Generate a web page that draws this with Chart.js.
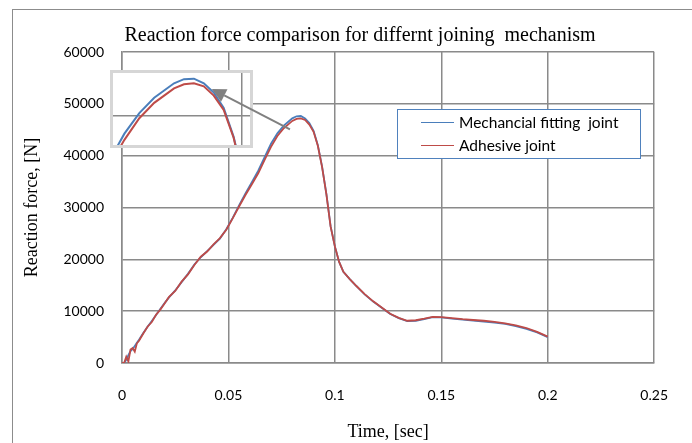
<!DOCTYPE html>
<html>
<head>
<meta charset="utf-8">
<script src="https://cdn.jsdelivr.net/npm/chart.js@4.4.1/dist/chart.umd.min.js"></script>
<style>
  html, body { margin: 0; padding: 0; background: #fff; }
  #wrap { position: relative; width: 692px; height: 443px; overflow: hidden; }
  #wrap canvas { position: absolute; left: 0; top: 0; }
  #inset { pointer-events: none; }
</style>
</head>
<body>
<div id="wrap">
  <canvas id="main" width="692" height="443"></canvas>
  <canvas id="inset" width="692" height="443"></canvas>
</div>
<script>
// ---- data ----
const chartTitle = 'Reaction force comparison for differnt joining  mechanism';
const xAxisTitle = 'Time, [sec]';
const yAxisTitle = 'Reaction force, [N]';
const seriesNames = ['Mechancial fitting  joint', 'Adhesive joint'];

const times = [0, 0.001, 0.002, 0.003, 0.004, 0.005, 0.006, 0.007, 0.008, 0.010,
  0.012, 0.014, 0.016, 0.018, 0.020, 0.022, 0.025, 0.028, 0.031, 0.034,
  0.037, 0.040, 0.043, 0.046, 0.049, 0.052, 0.055, 0.058, 0.061, 0.064,
  0.067, 0.070, 0.073, 0.076, 0.078, 0.080, 0.082, 0.084, 0.086, 0.088,
  0.090, 0.092, 0.094, 0.096, 0.098, 0.100, 0.102, 0.104, 0.107, 0.110,
  0.114, 0.118, 0.122, 0.126, 0.130, 0.134, 0.138, 0.142, 0.146, 0.150,
  0.155, 0.160, 0.165, 0.170, 0.175, 0.180, 0.185, 0.190, 0.195, 0.200];

const mechanicalForce = [0, 0, 600, 1500, 2300, 2700, 3300, 3900, 4500, 5800,
  7000, 8100, 9250, 10400, 11550, 12600, 14000, 15600, 17200, 19000,
  20400, 21600, 22800, 24000, 25800, 28000, 30400, 32700, 34900, 37100,
  39700, 42300, 44300, 45800, 46500, 47200, 47600, 47650, 47200, 46300,
  44800, 42000, 37900, 32700, 26400, 22500, 19500, 17600, 16200, 14900,
  13250, 11850, 10650, 9450, 8650, 8100, 8150, 8450, 8850, 8800,
  8550, 8350, 8200, 8000, 7800, 7550, 7100, 6600, 5900, 5000];

const adhesiveForce = [0, 0, 1200, 300, 2600, 2900, 2200, 3800, 4300, 5700,
  7000, 7900, 9300, 10300, 11500, 12700, 13900, 15700, 17100, 18900,
  20500, 21500, 22900, 24100, 25700, 27900, 30200, 32400, 34500, 36600,
  39200, 41700, 43800, 45300, 46000, 46700, 47100, 47200, 46900, 46000,
  44600, 41900, 37800, 32600, 26300, 22500, 19500, 17600, 16200, 14900,
  13300, 11900, 10700, 9500, 8700, 8150, 8250, 8550, 8900, 8850,
  8650, 8450, 8300, 8150, 7950, 7650, 7250, 6750, 6000, 5100];

const xTicks = [0, 0.05, 0.1, 0.15, 0.2, 0.25];
const xTickLabels = ['0', '0.05', '0.1', '0.15', '0.2', '0.25'];
const yTicks = [0, 10000, 20000, 30000, 40000, 50000, 60000];
const yTickLabels = ['0', '10000', '20000', '30000', '40000', '50000', '60000'];

// zoomed inset (same data, zoomed range) and its pointer arrow
const insetXRange = [0.0675, 0.0955];
const insetYRange = [41000, 48300];
const insetGridX = [0.0937];
const insetGridY = [44000];
const arrowFrom = [0.0789, 45080];
const arrowTo = [0.0422, 52850];

// ---- styles ----
const BLUE = '#4a7ebb';
const RED = '#be4b48';
const GRID = '#8a8a8a';
const SANS = 'Lato, "Liberation Sans", sans-serif';
const SERIF = '"Liberation Serif", "DejaVu Serif", serif';

function pts(ys) { return times.map((t, i) => ({ x: t, y: ys[i] })); }

const frame = {
  id: 'frame',
  beforeDraw(chart) {
    const c = chart.ctx;
    c.save();
    c.fillStyle = '#fff';
    c.fillRect(0, 0, chart.width, chart.height);
    c.strokeStyle = '#8c8c8c';
    c.lineWidth = 1;
    c.strokeRect(12.5, 9.5, chart.width, chart.height);
    c.restore();
  },
  afterDraw(chart) {
    const c = chart.ctx;
    c.save();
    // title
    c.fillStyle = '#000';
    c.font = '20px ' + SERIF;
    c.textAlign = 'center';
    c.textBaseline = 'middle';
    c.fillText(chartTitle, 360, 36);
    // legend
    const lx = 397.5, ly = 109.5, lw = 243, lh = 49;
    c.fillStyle = '#fff';
    c.fillRect(lx, ly, lw, lh);
    c.strokeStyle = '#4f81bd';
    c.lineWidth = 1;
    c.strokeRect(lx, ly, lw, lh);
    const ds = chart.data.datasets;
    c.font = '15.5px ' + SANS;
    c.textAlign = 'left';
    [0, 1].forEach((k) => {
      const y = 122.5 + k * 23;
      c.strokeStyle = ds[k].borderColor;
      c.lineWidth = 1.2;
      c.beginPath(); c.moveTo(421, y); c.lineTo(454, y); c.stroke();
      c.fillStyle = '#000';
      c.fillText(ds[k].label, 459, y + 0.5);
    });
    c.restore();
  }
};

const mainChart = new Chart(document.getElementById('main'), {
  type: 'line',
  data: {
    datasets: [
      { label: seriesNames[0], data: pts(mechanicalForce), borderColor: BLUE, borderWidth: 1.8, pointRadius: 0, order: 1 },
      { label: seriesNames[1], data: pts(adhesiveForce), borderColor: RED, borderWidth: 1.8, pointRadius: 0, order: 0 }
    ]
  },
  options: {
    responsive: false,
    animation: false,
    events: [],
    layout: { padding: { left: 12, top: 52, right: 34, bottom: 0 } },
    plugins: { legend: { display: false }, tooltip: { enabled: false }, title: { display: false } },
    scales: {
      x: {
        type: 'linear', min: 0, max: 0.25,
        afterBuildTicks(s) { s.ticks = xTicks.map(v => ({ value: v })); },
        afterFit(s) { s.height = 80; },
        grid: { color: GRID, lineWidth: 1.5, drawTicks: false },
        border: { color: GRID, width: 1.5 },
        ticks: { color: '#000', font: { family: SANS, size: 14 }, padding: 24, maxRotation: 0,
                 callback: (v, i) => xTickLabels[i] },
        title: { display: true, text: xAxisTitle, color: '#000', font: { family: SERIF, size: 18 },
                 padding: { top: 0, bottom: 0.2 } }
      },
      y: {
        min: 0, max: 60000,
        afterBuildTicks(s) { s.ticks = yTicks.map(v => ({ value: v })); },
        afterFit(s) { s.width = 110; },
        grid: { color: GRID, lineWidth: 1.5, drawTicks: false },
        border: { color: GRID, width: 1.5 },
        ticks: { color: '#000', font: { family: SANS, size: 14 }, padding: 18,
                 callback: (v, i) => yTickLabels[i] },
        title: { display: true, text: yAxisTitle, color: '#000', font: { family: SERIF, size: 18 },
                 padding: { top: 9.2, bottom: 0 } }
      }
    }
  },
  plugins: [frame]
});

const insetDecor = {
  id: 'insetDecor',
  beforeDraw(chart) {
    const c = chart.ctx;
    c.save();
    c.fillStyle = '#fff';
    c.fillRect(110, 70, 143, 78);
    c.restore();
  },
  afterDraw(chart) {
    const c = chart.ctx;
    c.save();
    c.strokeStyle = '#d6d6d6';
    c.lineWidth = 3;
    c.strokeRect(111.5, 71.5, 140, 75);
    // arrow, positioned through the main chart's scales
    const sx = mainChart.scales.x, sy = mainChart.scales.y;
    const x0 = sx.getPixelForValue(arrowFrom[0]), y0 = sy.getPixelForValue(arrowFrom[1]);
    const x1 = sx.getPixelForValue(arrowTo[0]), y1 = sy.getPixelForValue(arrowTo[1]);
    const ang = Math.atan2(y1 - y0, x1 - x0);
    const hl = 14, hw = 7;
    const bx = x1 - hl * Math.cos(ang), by = y1 - hl * Math.sin(ang);
    c.strokeStyle = '#808080';
    c.fillStyle = '#808080';
    c.lineWidth = 2;
    c.beginPath(); c.moveTo(x0, y0); c.lineTo(bx, by); c.stroke();
    c.beginPath();
    c.moveTo(x1, y1);
    c.lineTo(bx + hw * Math.sin(ang), by - hw * Math.cos(ang));
    c.lineTo(bx - hw * Math.sin(ang), by + hw * Math.cos(ang));
    c.closePath(); c.fill();
    c.restore();
  }
};

new Chart(document.getElementById('inset'), {
  type: 'line',
  data: {
    datasets: [
      { label: seriesNames[0], data: pts(mechanicalForce), borderColor: BLUE, borderWidth: 2, pointRadius: 0, order: 1 },
      { label: seriesNames[1], data: pts(adhesiveForce), borderColor: RED, borderWidth: 2, pointRadius: 0, order: 0 }
    ]
  },
  options: {
    responsive: false,
    animation: false,
    events: [],
    layout: { padding: { left: 112, top: 72, right: 441, bottom: 296 } },
    plugins: { legend: { display: false }, tooltip: { enabled: false } },
    scales: {
      x: {
        type: 'linear', min: insetXRange[0], max: insetXRange[1],
        afterBuildTicks(s) { s.ticks = insetGridX.map(v => ({ value: v })); },
        afterFit(s) { s.height = 0; },
        grid: { color: GRID, lineWidth: 1.5, drawTicks: false },
        border: { display: false },
        ticks: { display: false }
      },
      y: {
        min: insetYRange[0], max: insetYRange[1],
        afterBuildTicks(s) { s.ticks = insetGridY.map(v => ({ value: v })); },
        afterFit(s) { s.width = 0; },
        grid: { color: GRID, lineWidth: 1.5, drawTicks: false },
        border: { display: false },
        ticks: { display: false }
      }
    }
  },
  plugins: [insetDecor]
});
</script>
</body>
</html>
